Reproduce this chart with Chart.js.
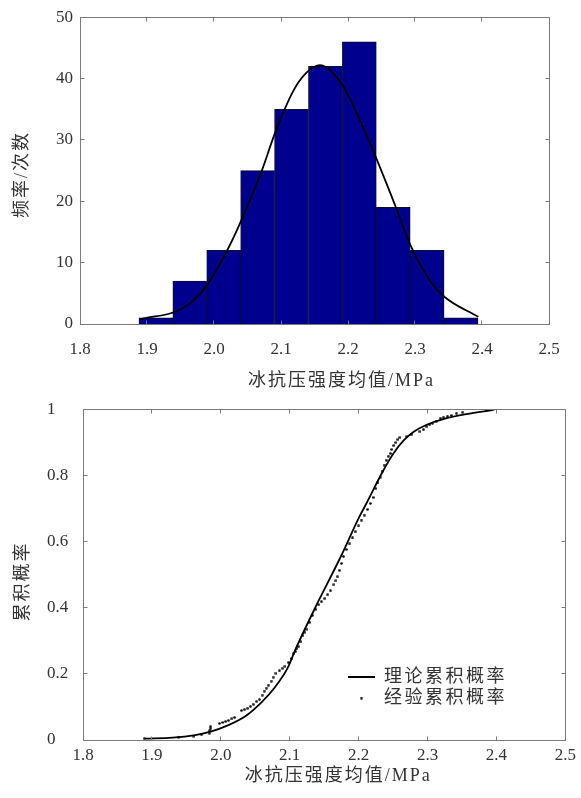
<!DOCTYPE html>
<html><head><meta charset="utf-8">
<script src="https://cdn.jsdelivr.net/npm/chart.js@4.4.1/dist/chart.umd.min.js"></script>
<style>
html,body{margin:0;padding:0;background:#fff;width:581px;height:798px;overflow:hidden}
#w1{position:absolute;left:0;top:0;width:581px;height:395px}
#w2{position:absolute;left:0;top:392px;width:581px;height:406px}
canvas{display:block}
</style></head><body>
<div id="w1"><canvas id="c1" width="581" height="395"></canvas></div>
<div id="w2"><canvas id="c2" width="581" height="406"></canvas></div>
<script>
// ---------- data: histogram (top) ----------
const binCenters = [1.9133, 1.9639, 2.0145, 2.0651, 2.1157, 2.1663, 2.2169, 2.2675, 2.3181, 2.3687];
const binCounts  = [1, 7, 12, 25, 35, 42, 46, 19, 12, 1];
const fitX = [1.8896, 1.9567, 1.989, 2.019, 2.0388, 2.0712, 2.091, 2.1184, 2.1384, 2.158, 2.1906, 2.2179, 2.2418, 2.2701, 2.2951, 2.3224, 2.3433, 2.3945];
const fitY = [0.75, 2.77, 6.25, 11.86, 16.4, 24.95, 31.1, 38.0, 41.0, 42.2, 39.1, 33.2, 27.1, 19.4, 12.4, 7.05, 4.49, 1.17];
const xTickValues = [1.8, 1.9, 2.0, 2.1, 2.2, 2.3, 2.4, 2.5];
const xTickLabels = ['1.8', '1.9', '2.0', '2.1', '2.2', '2.3', '2.4', '2.5'];
const yTickValuesTop = [0, 10, 20, 30, 40, 50];
const yTickLabelsTop = ['0', '10', '20', '30', '40', '50'];

// ---------- data: cumulative probability (bottom) ----------
const theoX = [1.890, 1.930, 1.963, 1.985, 2.011, 2.035, 2.059, 2.078, 2.097, 2.109, 2.1405, 2.174, 2.2006, 2.212, 2.234, 2.2507, 2.265, 2.280, 2.2988, 2.3228, 2.3563, 2.3946];
const theoY = [0.004, 0.007, 0.015, 0.025, 0.045, 0.071, 0.114, 0.158, 0.218, 0.277, 0.415, 0.554, 0.673, 0.718, 0.808, 0.867, 0.905, 0.932, 0.953, 0.970, 0.985, 0.997];
const empX = [1.889, 1.939, 1.961, 1.972, 1.983, 1.984, 1.985, 1.985,
  1.998, 2.003, 2.007, 2.011, 2.016, 2.020,
  2.030, 2.034, 2.039, 2.043, 2.047, 2.052, 2.056, 2.060, 2.063, 2.066, 2.069, 2.073, 2.076, 2.080, 2.085, 2.089, 2.093, 2.098,
  2.102, 2.106, 2.108, 2.110, 2.113, 2.116, 2.119, 2.122, 2.125, 2.129, 2.133, 2.138, 2.142, 2.146, 2.151, 2.155, 2.159,
  2.164, 2.167, 2.169, 2.172, 2.175, 2.178, 2.182, 2.187, 2.191, 2.195, 2.200, 2.204, 2.208, 2.213, 2.217, 2.221,
  2.225, 2.228, 2.231, 2.234, 2.237, 2.240, 2.243, 2.246, 2.248, 2.251, 2.254, 2.257, 2.260,
  2.270, 2.276, 2.289, 2.294, 2.299, 2.303, 2.307, 2.313, 2.319, 2.323, 2.329, 2.335, 2.342, 2.351, 2.385, 2.395];
const empY = [0.004, 0.009, 0.012, 0.016, 0.021, 0.028, 0.034, 0.040,
  0.050, 0.053, 0.056, 0.059, 0.064, 0.068,
  0.089, 0.092, 0.096, 0.102, 0.108, 0.116, 0.122, 0.136, 0.148, 0.157, 0.166, 0.178, 0.190, 0.202, 0.209, 0.217, 0.223, 0.234,
  0.246, 0.261, 0.267, 0.276, 0.282, 0.297, 0.315, 0.326, 0.335, 0.356, 0.377, 0.395, 0.409, 0.418, 0.427, 0.439, 0.451,
  0.469, 0.481, 0.493, 0.513, 0.534, 0.555, 0.576, 0.593, 0.611, 0.629, 0.647, 0.665, 0.680, 0.697, 0.715, 0.733,
  0.760, 0.777, 0.795, 0.813, 0.831, 0.846, 0.858, 0.866, 0.878, 0.890, 0.899, 0.908, 0.914,
  0.917, 0.923, 0.932, 0.938, 0.947, 0.953, 0.958, 0.964, 0.973, 0.976, 0.979, 0.981, 0.988, 0.991, 0.997, 0.999];
const yTickValuesBot = [0, 0.2, 0.4, 0.6, 0.8, 1];
const yTickLabelsBot = ['0', '0.2', '0.4', '0.6', '0.8', '1'];

const xTitle = '冰抗压强度均值/MPa';
const yTitleTop = '频率/次数';
const yTitleBot = '累积概率';
const legendLabels = ['理论累积概率', '经验累积概率'];

// ---------- styles ----------
const SERIF = "'Liberation Serif','Times New Roman',serif";
const CJK = "'Liberation Serif','Noto Sans CJK SC',serif";
const TXT = '#333333';
const AX = '#7a7a7a';

const tweak = {
  id: 'tweak',
  afterUpdate(chart, args, opts) {
    const lg = chart.legend;
    if (opts.legend && lg && lg.options.display) {
      const lo = opts.legend;
      lg.left = lo.left; lg.top = lo.top;
      lg.fit();
      lg.right = chart.chartArea.right; lg.bottom = chart.chartArea.bottom;
      lg.adjustHitBoxes();
      if (!lg._tw) {
        const od = lg.draw;
        lg.draw = function (...a) { const c = this.ctx; c.save(); c.letterSpacing = lo.ls; od.apply(this, a); c.restore(); };
        lg._tw = true;
      }
    }
  },
  beforeDraw(chart, args, opts) {
    for (const id of ['x', 'y']) {
      const s = chart.scales[id]; const o = opts[id];
      if (!s || !o || s._tw) continue;
      const od = s.drawTitle;
      s.drawTitle = function (...a) { const c = this.ctx; c.save(); c.translate(o.dx, o.dy); c.letterSpacing = o.ls; od.apply(this, a); c.restore(); };
      s._tw = true;
    }
  },
  afterDraw(chart) {
    const {ctx, chartArea: a} = chart;
    const xs = chart.scales.x, ys = chart.scales.y;
    const L = Math.round(a.left - 0.5) + 0.5, R = Math.round(a.right - 0.5) + 0.5;
    const T = Math.round(a.top - 0.5) + 0.5, B = Math.round(a.bottom - 0.5) + 0.5;
    ctx.save();
    ctx.strokeStyle = AX; ctx.lineWidth = 1;
    ctx.beginPath();
    ctx.moveTo(L, T); ctx.lineTo(R, T); ctx.lineTo(R, B);
    const tl = 4;
    xs.ticks.forEach(t => {
      const p = Math.round(xs.getPixelForValue(t.value) - 0.5) + 0.5;
      if (Math.abs(p - L) < 2 || Math.abs(p - R) < 2) return;
      ctx.moveTo(p, B); ctx.lineTo(p, B - tl);
      ctx.moveTo(p, T); ctx.lineTo(p, T + tl);
    });
    ys.ticks.forEach(t => {
      const p = Math.round(ys.getPixelForValue(t.value) - 0.5) + 0.5;
      if (Math.abs(p - T) < 2 || Math.abs(p - B) < 2) return;
      ctx.moveTo(L, p); ctx.lineTo(L + tl, p);
      ctx.moveTo(R, p); ctx.lineTo(R - tl, p);
    });
    ctx.stroke();
    ctx.restore();
  }
};

function xScale(pad) {
  return {
    type: 'linear', min: 1.8, max: 2.5, offset: false,
    grid: {display: false, drawTicks: false},
    border: {display: true, color: AX, width: 1},
    afterBuildTicks: s => { s.ticks = xTickValues.map(v => ({value: v})); },
    ticks: {padding: pad, color: TXT, font: {family: SERIF, size: 17}, maxRotation: 0, autoSkip: false,
      callback: (v, i) => xTickLabels[i]},
    title: {display: true, text: xTitle, color: TXT, font: {family: CJK, size: 18}, padding: 0}
  };
}

// ---------- top chart ----------
new Chart(document.getElementById('c1'), {
  type: 'bar',
  data: {
    datasets: [
      {type: 'bar', label: '频数', data: binCenters.map((x, i) => ({x, y: binCounts[i]})),
        backgroundColor: '#00008f', borderColor: '#0b0b2e', borderWidth: 1,
        barPercentage: 1, categoryPercentage: 1, order: 2},
      {type: 'line', label: '拟合', data: fitX.map((x, i) => ({x, y: fitY[i]})),
        borderColor: '#000', borderWidth: 1.8, pointRadius: 0, fill: false,
        cubicInterpolationMode: 'monotone', order: 1}
    ]
  },
  options: {
    responsive: false, devicePixelRatio: 1, animation: false, events: [],
    layout: {padding: {left: 0, top: 12, right: 32, bottom: 0}},
    scales: {
      x: Object.assign(xScale(15), {afterFit: s => { s.height = 71; }}),
      y: {
        type: 'linear', min: 0, max: 50,
        afterFit: s => { s.width = 80; },
        grid: {display: false, drawTicks: false},
        border: {display: true, color: AX, width: 1},
        afterBuildTicks: s => { s.ticks = yTickValuesTop.map(v => ({value: v})); },
        ticks: {padding: 7, color: TXT, font: {family: SERIF, size: 17}, callback: (v, i) => yTickLabelsTop[i]},
        title: {display: true, text: yTitleTop, color: TXT, font: {family: CJK, size: 18}, padding: 0}
      }
    },
    plugins: {
      legend: {display: false}, tooltip: {enabled: false},
      tweak: {x: {dx: 27, dy: -3, ls: '2px'}, y: {dx: 11, dy: 4, ls: '2px'}}
    }
  },
  plugins: [tweak]
});

// ---------- bottom chart ----------
const dot = document.createElement('canvas');
dot.width = 3; dot.height = 3;
(function () { const d = dot.getContext('2d'); d.fillStyle = '#000'; d.beginPath(); d.arc(1.5, 1.5, 1.3, 0, Math.PI * 2); d.fill(); })();

new Chart(document.getElementById('c2'), {
  type: 'line',
  data: {
    datasets: [
      {label: legendLabels[0], data: theoX.map((x, i) => ({x, y: theoY[i]})),
        borderColor: '#000', backgroundColor: '#000', borderWidth: 1.8, pointRadius: 0,
        pointStyle: 'line', pointBorderWidth: 1.8, pointBorderColor: '#000',
        cubicInterpolationMode: 'monotone', fill: false, order: 1},
      {label: legendLabels[1], data: empX.map((x, i) => ({x, y: empY[i]})),
        showLine: false, pointStyle: dot, pointRadius: 1.5,
        borderColor: '#111', backgroundColor: '#111', order: 2}
    ]
  },
  options: {
    responsive: false, devicePixelRatio: 1, animation: false, events: [],
    layout: {padding: {left: 47, top: 11, right: 11, bottom: 0}},
    scales: {
      x: Object.assign(xScale(5), {afterFit: s => { s.height = 58; }}),
      y: {
        type: 'linear', min: 0, max: 1,
        afterFit: s => { s.width = 36; },
        grid: {display: false, drawTicks: false},
        border: {display: true, color: AX, width: 1},
        afterBuildTicks: s => { s.ticks = yTickValuesBot.map(v => ({value: v})); },
        ticks: {crossAlign: 'far', padding: 7, color: TXT, font: {family: SERIF, size: 17}, callback: (v, i) => yTickLabelsBot[i]},
        title: {display: true, text: yTitleBot, color: TXT, font: {family: CJK, size: 18}, padding: 0}
      }
    },
    plugins: {
      tooltip: {enabled: false},
      legend: {
        display: true, position: 'chartArea', align: 'start',
        labels: {usePointStyle: true, pointStyleWidth: 27, padding: 3, color: TXT,
          font: {family: CJK, size: 18}}
      },
      tweak: {x: {dx: 14, dy: -11, ls: '2px'}, y: {dx: -35, dy: 7, ls: '2px'},
        legend: {left: 345, top: 273, ls: '2.5px'}}
    }
  },
  plugins: [tweak]
});
</script></body></html>
